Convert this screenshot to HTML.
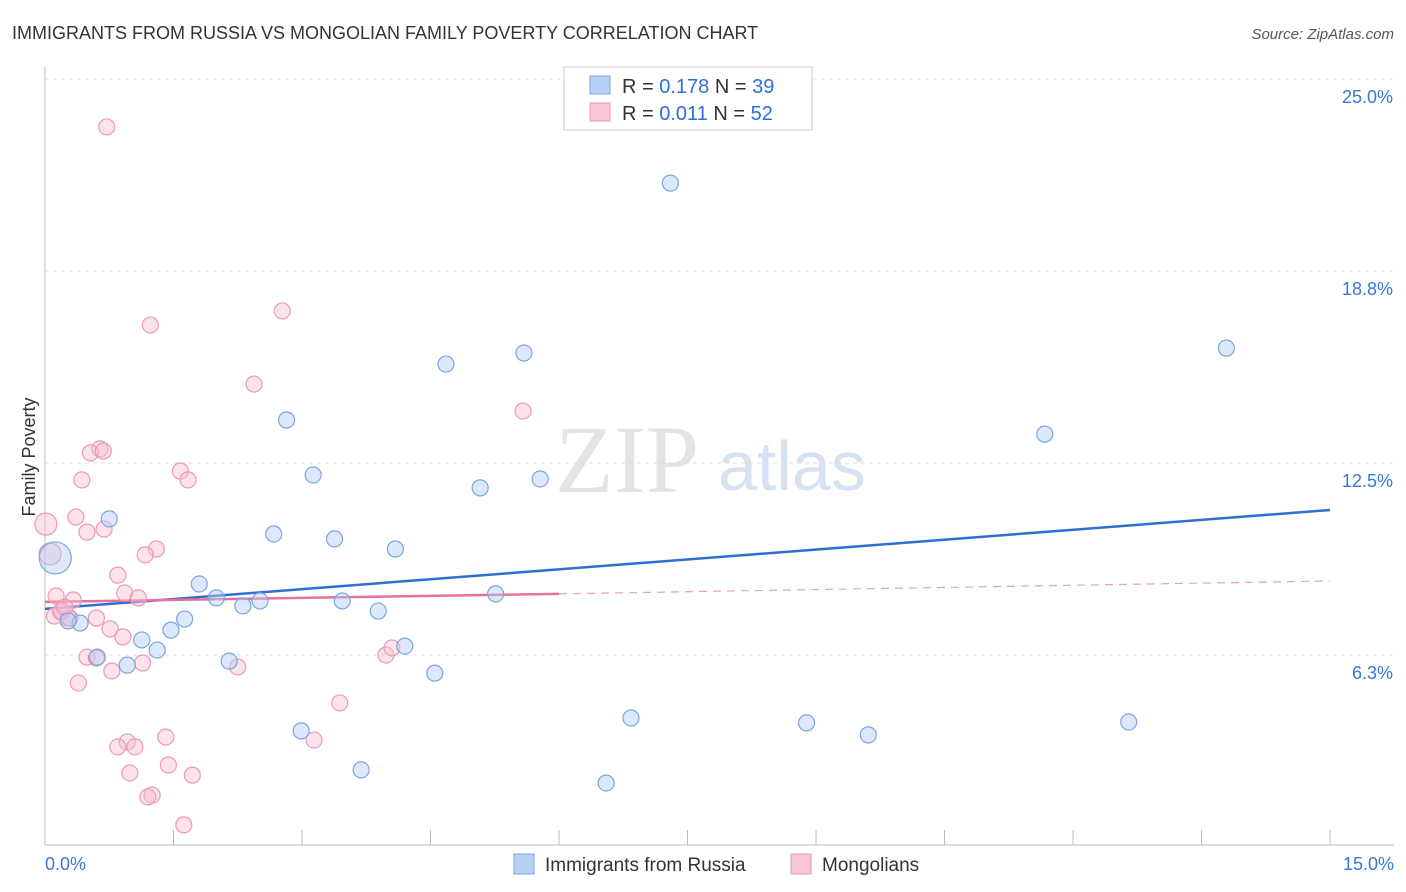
<!DOCTYPE html>
<html><head><meta charset="utf-8"><style>
body{margin:0;background:#fff;font-family:"Liberation Sans",sans-serif;}
#wrap{position:relative;width:1406px;height:892px;overflow:hidden;}
</style></head><body>
<div id="wrap">
<svg id="chart" width="1406" height="892" xmlns="http://www.w3.org/2000/svg" font-family="Liberation Sans, sans-serif">
<text x="12" y="39" font-size="18" fill="#333">IMMIGRANTS FROM RUSSIA VS MONGOLIAN FAMILY POVERTY CORRELATION CHART</text>
<text x="1394" y="39" font-size="15" fill="#555" font-style="italic" text-anchor="end">Source: ZipAtlas.com</text>
<text x="35" y="457" font-size="18" fill="#333" text-anchor="middle" transform="rotate(-90 35 457)">Family Poverty</text>
<text x="555" y="492" font-size="96" fill="#e4e4e4" font-family="Liberation Serif, serif">ZIP</text>
<text x="718" y="490" font-size="70" fill="#d6e2f2">atlas</text>
<g id="grid"></g><g id="axes"></g><g id="trends"></g><g id="points"></g>
<g>
<rect x="564" y="67" width="248" height="63" fill="#fff" stroke="#ccc"/>
<rect x="590" y="76" width="20" height="18" fill="#b6d0f3" stroke="#7aa6e0"/>
<text x="622" y="93" font-size="20" fill="#333">R = <tspan fill="#2f6fd3">0.178</tspan>   N = <tspan fill="#2f6fd3">39</tspan></text>
<rect x="590" y="103" width="20" height="18" fill="#f8c6d6" stroke="#e894b1"/>
<text x="622" y="120" font-size="20" fill="#333">R = <tspan fill="#2f6fd3">0.011</tspan>   N = <tspan fill="#2f6fd3">52</tspan></text>
</g>
<g>
<rect x="514" y="854" width="20" height="20" fill="#b6d0f3" stroke="#7aa6e0"/>
<text x="545" y="871" font-size="19" fill="#333">Immigrants from Russia</text>
<rect x="791" y="854" width="20" height="20" fill="#f8c6d6" stroke="#e894b1"/>
<text x="822" y="871" font-size="19" fill="#333">Mongolians</text>
</g>
</svg>
</div>
<script>
const yTicks=[25,18.75,12.5,6.25];
const yTickLabels=["25.0%","18.8%","12.5%","6.3%"];
const xTicks=[0,1.5,3,4.5,6,7.5,9,10.5,12,13.5,15];
const xTickLabels=["0.0%","15.0%"];
const russiaX=[7.30,5.59,4.68,13.79,2.82,11.67,3.13,5.08,5.78,0.75,2.67,3.38,4.09,0.12,1.80,2.00,2.31,2.51,3.47,3.89,5.26,1.63,0.41,0.27,1.13,1.47,1.31,4.20,0.61,0.96,2.15,4.55,6.84,8.89,12.65,9.61,2.99,3.69,6.55];
const russiaY=[21.61,16.08,15.72,16.24,13.90,13.44,12.11,11.69,11.98,10.68,10.19,10.03,9.70,9.41,8.56,8.11,7.85,8.01,8.01,7.68,8.24,7.42,7.29,7.36,6.74,7.06,6.41,6.54,6.18,5.92,6.05,5.66,4.20,4.04,4.07,3.65,3.78,2.51,2.08];
const russiaBig=[13];
const mongX=[0.72,2.77,1.23,2.44,5.58,0.64,0.53,0.68,1.58,0.43,1.67,0.36,0.01,0.49,0.69,1.30,1.17,0.06,0.85,0.93,1.09,0.13,0.33,0.18,0.11,0.27,0.60,0.76,0.91,0.49,0.60,1.14,0.78,2.25,3.98,4.05,0.39,3.44,1.41,3.14,0.96,0.85,1.05,1.44,0.99,1.72,1.25,1.20,1.62,0.29,0.19,0.23];
const mongY=[23.44,17.45,16.99,15.07,14.19,12.96,12.83,12.89,12.24,11.95,11.95,10.74,10.51,10.25,10.35,9.70,9.51,9.54,8.85,8.27,8.11,8.17,8.04,7.65,7.52,7.45,7.45,7.10,6.84,6.18,6.15,5.99,5.73,5.86,6.25,6.48,5.34,4.69,3.58,3.48,3.42,3.26,3.26,2.67,2.41,2.34,1.69,1.63,0.72,7.45,7.68,7.81];
const mongBig=[12,17];
const russiaTrend=[7.75,10.97];
const mongTrend=[7.98,8.24,8.66];
const NS="http://www.w3.org/2000/svg";
const X=v=>45+v*85.67, Y=v=>847-v*30.72;
function mk(t,a,p){const e=document.createElementNS(NS,t);for(const k in a)e.setAttribute(k,a[k]);document.getElementById(p).appendChild(e);return e;}
yTicks.forEach((t,i)=>{
 const l=mk('line',{x1:45,x2:1394,y1:Y(t),y2:Y(t),stroke:'#ddd','stroke-dasharray':'4 4'},'grid');
 
 
 const tx=mk('text',{x:1393,y:Y(t)+24,'font-size':18,fill:'#3a78d6','text-anchor':'end'},'axes');
 tx.textContent=yTickLabels[i];
 
 
});
const ya=mk('line',{x1:45,x2:45,y1:67,y2:845,stroke:'#bbb'},'axes');


const xa=mk('line',{x1:45,x2:1394,y1:845,y2:845,stroke:'#bbb'},'axes');


xTicks.forEach(t=>{
 const l=mk('line',{x1:X(t),x2:X(t),y1:830,y2:845,stroke:'#bbb'},'axes');
 
 
});
[[0,'start',45],[15,'end',1394]].forEach((d,i)=>{
 const tx=mk('text',{x:d[2],y:870,'font-size':18,fill:'#3a78d6','text-anchor':d[1]},'axes');
 tx.textContent=xTickLabels[i];
 
 
});
function pts(xs,ys,big,bigR,fill,stroke,name){
 xs.forEach((x,i)=>{
  const c=mk('circle',{cx:X(x),cy:Y(ys[i]),r:big.includes(i)?bigR:8,fill:fill,stroke:stroke,'stroke-width':1.2},'points');
  
  
 });
}
pts(mongX,mongY,mongBig,11,'rgba(248,190,210,0.45)','#e99ab6','mongolians-point');
pts(russiaX,russiaY,russiaBig,16,'rgba(180,205,243,0.45)','#7aa6e0','russia-point');
const t1=mk('line',{x1:X(0),y1:Y(russiaTrend[0]),x2:X(15),y2:Y(russiaTrend[1]),stroke:'#2f6fd3','stroke-width':2.5},'trends');


const t2=mk('line',{x1:X(0),y1:Y(mongTrend[0]),x2:X(6),y2:Y(mongTrend[1]),stroke:'#e8709a','stroke-width':2.5},'trends');


const t3=mk('line',{x1:X(6),y1:Y(mongTrend[1]),x2:X(15),y2:Y(mongTrend[2]),stroke:'#e8a0b8','stroke-width':1.2,'stroke-dasharray':'8 6'},'trends');


</script>
</body></html>
